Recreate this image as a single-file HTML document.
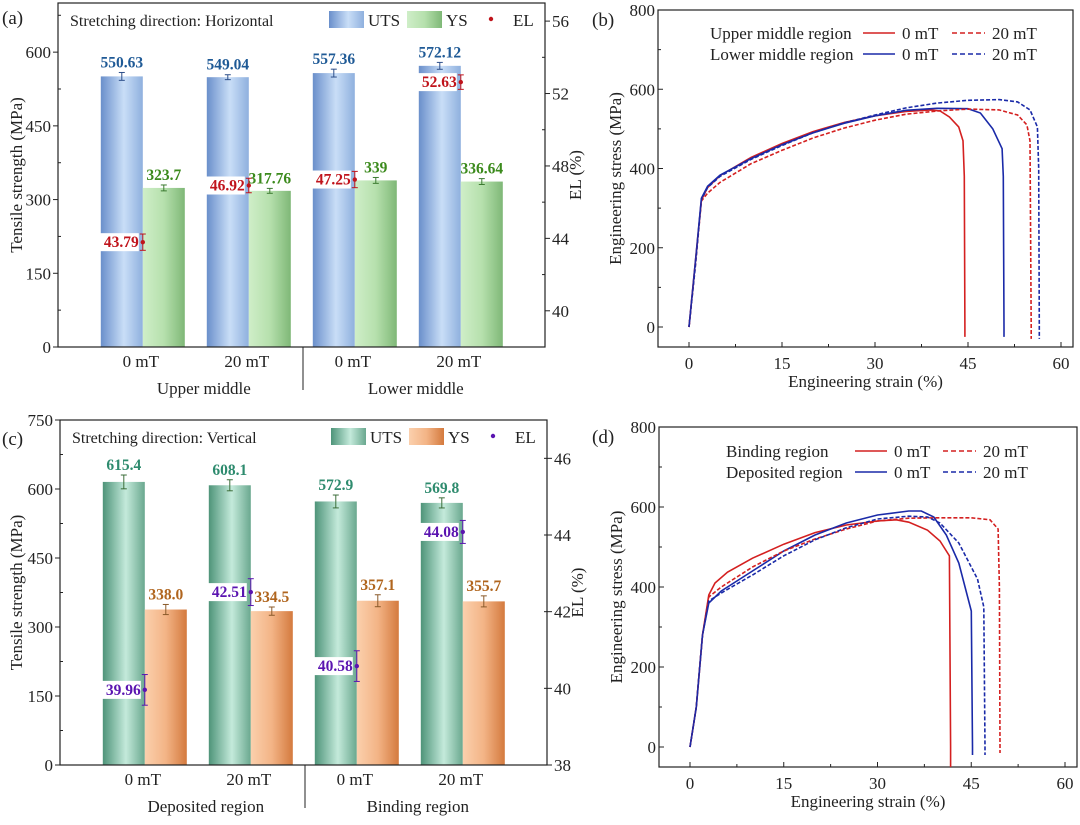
<!DOCTYPE html>
<html><head><meta charset="utf-8"><style>
html,body{margin:0;padding:0;background:#fff}
svg, svg text{font-family:"Liberation Serif","DejaVu Serif",serif}
</style></head><body>
<svg id="fig" width="1080" height="820" xmlns="http://www.w3.org/2000/svg" font-family="Liberation Serif, serif">
<defs>
<linearGradient id="gBlue" x1="0" x2="1"><stop offset="0" stop-color="#6a8fcb"/><stop offset="0.55" stop-color="#c9def7"/><stop offset="1" stop-color="#8fb0de"/></linearGradient>
<linearGradient id="gGreen" x1="0" x2="1"><stop offset="0" stop-color="#cfeec8"/><stop offset="0.5" stop-color="#b6e0ad"/><stop offset="1" stop-color="#7fb877"/></linearGradient>
<linearGradient id="gTeal" x1="0" x2="1"><stop offset="0" stop-color="#4e9479"/><stop offset="0.55" stop-color="#c4eadb"/><stop offset="1" stop-color="#6aa88f"/></linearGradient>
<linearGradient id="gOrange" x1="0" x2="1"><stop offset="0" stop-color="#fbd0ad"/><stop offset="0.5" stop-color="#f3b486"/><stop offset="1" stop-color="#d47a3e"/></linearGradient>
</defs>
</svg>
<script>
// ---------- Panel (a) data ----------
const aCats = ["0 mT","20 mT","0 mT","20 mT"];
const aGroups = ["Upper middle","Lower middle"];
const aUTS = [550.63,549.04,557.36,572.12];
const aUTSerr = [8,5,8,7];
const aYS = [323.7,317.76,339,336.64];
const aYSerr = [6,5,6,6];
const aEL = [43.79,46.92,47.25,52.63];
const aELerr = [0.45,0.4,0.45,0.4];
const aLeftTicks = [0,150,300,450,600];
const aRightTicks = [40,44,48,52,56];
// ---------- Panel (c) data ----------
const cCats = ["0  mT","20  mT","0  mT","20  mT"];
const cGroups = ["Deposited region","Binding region"];
const cUTS = [615.4,608.1,572.9,569.8];
const cUTSlbl = ["615.4","608.1","572.9","569.8"];
const cUTSerr = [15,12,14,11];
const cYS = [338.0,334.5,357.1,355.7];
const cYSlbl = ["338.0","334.5","357.1","355.7"];
const cYSerr = [11,9,13,12];
const cEL = [39.96,42.51,40.58,44.08];
const cELerr = [0.4,0.35,0.4,0.3];
const cLeftTicks = [0,150,300,450,600,750];
const cRightTicks = [38,40,42,44,46];
// ---------- Panel (b) data: [strain %, stress MPa] ----------
const bUpper0 = [[0,0],[1,160],[2,320],[3,352],[5,382],[10,428],[15,463],[20,493],[25,516],[30,533],[35,544],[39,548],[40.5,545],[42,530],[43.5,505],[44.2,470],[44.4,380],[44.5,0],[44.5,-25]];
const bLower0 = [[0,0],[1,160],[2,325],[3,355],[5,383],[10,425],[15,460],[20,490],[25,514],[30,533],[35,547],[40,552],[45,551],[47,540],[49,500],[50.5,450],[50.7,380],[50.8,0],[50.8,-25]];
const bUpper20 = [[0,0],[1,150],[2,318],[3,338],[5,365],[10,412],[15,446],[20,477],[25,502],[30,522],[35,537],[40,545],[45,550],[50,548],[53,535],[54.5,510],[55,470],[55.2,0],[55.2,-30]];
const bLower20 = [[0,0],[1,150],[2,322],[3,352],[5,380],[10,423],[15,458],[20,490],[25,515],[30,535],[35,553],[40,565],[45,572],[50,574],[53,568],[55,548],[56.2,505],[56.4,400],[56.5,0],[56.5,-30]];
// ---------- Panel (d) data ----------
const dBind0 = [[0,0],[1,100],[2,280],[3,380],[4,410],[6,437],[10,472],[15,507],[20,536],[25,555],[30,565],[33,568],[35,562],[38,542],[40,515],[41.5,478],[41.7,0],[41.7,-50]];
const dDep0 = [[0,0],[1,100],[2,280],[3,360],[5,390],[10,440],[15,490],[20,530],[25,560],[30,580],[35,590],[37,590],[39,575],[41,530],[43,460],[45,340],[45.2,0],[45.2,-20]];
const dBind20 = [[0,0],[1,100],[2,280],[3,375],[5,400],[10,450],[15,490],[20,520],[25,545],[30,565],[35,572],[40,573],[45,573],[48,568],[49.3,545],[49.5,400],[49.6,0],[49.6,-15]];
const dDep20 = [[0,0],[1,100],[2,280],[3,365],[5,385],[10,430],[15,478],[20,518],[25,548],[30,570],[35,577],[38,575],[40,560],[43,510],[46,420],[47,350],[47.2,0],[47.2,-20]];
const curveXTicks = [0,15,30,45,60];
const curveYTicks = [0,200,400,600,800];

const svg = document.getElementById('fig');
const NS = 'http://www.w3.org/2000/svg';
function mk(tag, attrs, parent, txt){
  const e = document.createElementNS(NS, tag);
  for (const k in attrs) e.setAttribute(k, attrs[k]);
  if (tag === 'text') e.setAttribute('font-family', 'Liberation Serif, DejaVu Serif, serif');
  if (txt !== undefined) e.textContent = txt;
  (parent || svg).appendChild(e);
  return e;
}

function barPanel(o){
  const g = mk('g', {});
  
  
  const yL = v => o.y1 - v * (o.y1 - o.y0) / o.ymax;
  const yR = v => o.y1 - (v - o.elMin) * (o.y1 - o.y0) / (o.elMax - o.elMin);
  const cx = i => o.x0 + (i + 0.8) * 106;
  const bw = 42;
  for (let i = 0; i < o.uts.length; i++) {
    const u = mk('rect', {x: cx(i) - bw, y: yL(o.uts[i]), width: bw, height: yL(0) - yL(o.uts[i]), fill: o.g1}, g);
    
    
    const s = mk('rect', {x: cx(i), y: yL(o.ys[i]), width: bw, height: yL(0) - yL(o.ys[i]), fill: o.g2}, g);
    
    
    [[cx(i) - bw / 2, o.uts[i], o.utsErr[i], o.ec1], [cx(i) + bw / 2, o.ys[i], o.ysErr[i], o.ec2]].forEach(([x, v, e, c]) => {
      mk('line', {x1: x, x2: x, y1: yL(v + e), y2: yL(v - e), stroke: c, 'stroke-width': 1}, g);
      mk('line', {x1: x - 3, x2: x + 3, y1: yL(v + e), y2: yL(v + e), stroke: c}, g);
      mk('line', {x1: x - 3, x2: x + 3, y1: yL(v - e), y2: yL(v - e), stroke: c}, g);
    });
    const t1 = mk('text', {x: cx(i) - bw / 2, y: yL(o.uts[i] + o.utsErr[i]) - 5, 'text-anchor': 'middle', 'font-size': 15.5, 'font-weight': 'bold', fill: o.tc1}, g, o.utsLbl ? o.utsLbl[i] : String(o.uts[i]));
    
    
    const t2 = mk('text', {x: cx(i) + bw / 2, y: yL(o.ys[i] + o.ysErr[i]) - 5, 'text-anchor': 'middle', 'font-size': 15.5, 'font-weight': 'bold', fill: o.tc2}, g, o.ysLbl ? o.ysLbl[i] : String(o.ys[i]));
    
    
  }
  for (let i = 0; i < o.el.length; i++) {
    const x = cx(i), y = yR(o.el[i]);
    mk('rect', {x: x - 44, y: y - 9, width: 40, height: 18, fill: '#fff'}, g);
    const lt = mk('text', {x: x - 4, y: y + 5, 'text-anchor': 'end', 'font-size': 15.5, 'font-weight': 'bold', fill: o.elc}, g, o.el[i].toFixed(2));
    
    
    mk('line', {x1: x, x2: x, y1: yR(o.el[i] + o.elErr[i]), y2: yR(o.el[i] - o.elErr[i]), stroke: o.elc}, g);
    mk('line', {x1: x - 3, x2: x + 3, y1: yR(o.el[i] + o.elErr[i]), y2: yR(o.el[i] + o.elErr[i]), stroke: o.elc}, g);
    mk('line', {x1: x - 3, x2: x + 3, y1: yR(o.el[i] - o.elErr[i]), y2: yR(o.el[i] - o.elErr[i]), stroke: o.elc}, g);
    const p = mk('circle', {cx: x, cy: y, r: 2.2, fill: o.elc}, g);
    
    
  }
  mk('rect', {x: o.x0, y: o.y0, width: o.x1 - o.x0, height: o.y1 - o.y0, fill: 'none', stroke: '#222', 'stroke-width': 1.2}, g);
  o.lt.forEach(v => {
    mk('line', {x1: o.x0 - 5, x2: o.x0, y1: yL(v), y2: yL(v), stroke: '#222'}, g);
    const tl = mk('text', {x: o.x0 - 7, y: yL(v) + 6, 'text-anchor': 'end', 'font-size': 17, fill: '#222'}, g, v);
    
    
  });
  for (let v = 75; v < o.ymax; v += 150) mk('line', {x1: o.x0, x2: o.x0 + 3, y1: yL(v), y2: yL(v), stroke: '#222'}, g);
  o.rt.forEach(v => {
    mk('line', {x1: o.x1, x2: o.x1 + 5, y1: yR(v), y2: yR(v), stroke: '#222'}, g);
    const tr = mk('text', {x: o.x1 + 7, y: yR(v) + 6, 'font-size': 17, fill: '#222'}, g, v);
    
    
    if (v + 2 <= o.elMax) mk('line', {x1: o.x1 - 3, x2: o.x1, y1: yR(v + 2), y2: yR(v + 2), stroke: '#222'}, g);
  });
  o.cats.forEach((c, i) => {
    const ct = mk('text', {x: cx(i) - 2, y: o.y1 + 20, 'text-anchor': 'middle', 'font-size': 17, fill: '#222', 'xml:space': 'preserve'}, g, c);
    
    
  });
  o.groups.forEach((c, i) => {
    const gt = mk('text', {x: cx(i * 2) + 61, y: o.y1 + 47, 'text-anchor': 'middle', 'font-size': 17, fill: '#222'}, g, c);
    
    
  });
  mk('line', {x1: o.x0 + 245, x2: o.x0 + 245, y1: o.y1, y2: o.y1 + 43, stroke: '#222'}, g);
  const yt = mk('text', {x: 0, y: 0, transform: `translate(${o.ytx},${(o.y0 + o.y1) / 2}) rotate(-90)`, 'text-anchor': 'middle', 'font-size': 17, fill: '#222'}, g, 'Tensile strength (MPa)');
  
  
  const rt = mk('text', {x: 0, y: 0, transform: `translate(${o.x1 + 36},${(o.y0 + o.y1) / 2}) rotate(-90)`, 'text-anchor': 'middle', 'font-size': 17, fill: '#222'}, g, 'EL (%)');
  
  
  const pl = mk('text', {x: 2, y: o.labY, 'font-size': 19, fill: '#222'}, g, o.label);
  
  
  const dt = mk('text', {x: o.x0 + 12, y: o.y0 + 23, 'font-size': 16, fill: '#222'}, g, o.dir);
  
  
  const ly = o.y0 + 8;
  const lg = mk('g', {}, g);
  
  
  mk('rect', {x: o.x0 + 271, y: ly, width: 35, height: 17, fill: o.g1}, lg);
  mk('text', {x: o.x0 + 310, y: ly + 15, 'font-size': 17, fill: '#222'}, lg, 'UTS');
  mk('rect', {x: o.x0 + 349, y: ly, width: 35, height: 17, fill: o.g2}, lg);
  mk('text', {x: o.x0 + 388, y: ly + 15, 'font-size': 17, fill: '#222'}, lg, 'YS');
  mk('circle', {cx: o.x0 + 433, cy: ly + 8, r: 2.2, fill: o.elc}, lg);
  mk('text', {x: o.x0 + 455, y: ly + 15, 'font-size': 17, fill: '#222'}, lg, 'EL');
}

barPanel({name: 'panel-a-bar-chart', x0: 58, x1: 545, y0: 3, y1: 347, ymax: 700, elMin: 38, elMax: 57,
  uts: aUTS, utsErr: aUTSerr, ys: aYS, ysErr: aYSerr, el: aEL, elErr: aELerr,
  g1: 'url(#gBlue)', g2: 'url(#gGreen)', ec1: '#2d4f8a', ec2: '#3b7a30', tc1: '#1f5a96', tc2: '#3b8a1c', elc: '#c0141c',
  lt: aLeftTicks, rt: aRightTicks, cats: aCats, groups: aGroups, ytx: 22, label: '(a)', labY: 24,
  dir: 'Stretching direction: Horizontal'});
barPanel({name: 'panel-c-bar-chart', x0: 60, x1: 547, y0: 420, y1: 765, ymax: 750, elMin: 38, elMax: 47,
  uts: cUTS, utsLbl: cUTSlbl, utsErr: cUTSerr, ys: cYS, ysLbl: cYSlbl, ysErr: cYSerr, el: cEL, elErr: cELerr,
  g1: 'url(#gTeal)', g2: 'url(#gOrange)', ec1: '#3d6e3a', ec2: '#8a5a2a', tc1: '#2e8b6e', tc2: '#b0651e', elc: '#5a14b0',
  lt: cLeftTicks, rt: cRightTicks, cats: cCats, groups: cGroups, ytx: 22, label: '(c)', labY: 445,
  dir: 'Stretching direction: Vertical'});

function curvePanel(o){
  const g = mk('g', {});
  
  
  const X = v => o.zx + v * o.kx;
  const Y = v => o.zy - v * o.ky;
  mk('rect', {x: o.x0, y: o.y0, width: o.x1 - o.x0, height: o.y1 - o.y0, fill: 'none', stroke: '#222', 'stroke-width': 1.2}, g);
  curveXTicks.forEach(v => {
    mk('line', {x1: X(v), x2: X(v), y1: o.y1, y2: o.y1 - 5, stroke: '#222'}, g);
    mk('line', {x1: X(v + 7.5), x2: X(v + 7.5), y1: o.y1, y2: o.y1 - 3, stroke: '#222'}, g);
    const t = mk('text', {x: X(v), y: o.y1 + 22, 'text-anchor': 'middle', 'font-size': 17, fill: '#222'}, g, v);
    
    
  });
  curveYTicks.forEach(v => {
    mk('line', {x1: o.x0, x2: o.x0 + 5, y1: Y(v), y2: Y(v), stroke: '#222'}, g);
    if (v < 800) mk('line', {x1: o.x0, x2: o.x0 + 3, y1: Y(v + 100), y2: Y(v + 100), stroke: '#222'}, g);
    const t = mk('text', {x: o.x0 - 3, y: Y(v) + 6, 'text-anchor': 'end', 'font-size': 17, fill: '#222'}, g, v);
    
    
  });
  o.series.forEach(s => {
    const p = mk('path', {d: s.d.map((pt, i) => (i ? 'L' : 'M') + X(pt[0]).toFixed(1) + ',' + Y(pt[1]).toFixed(1)).join(''),
      fill: 'none', stroke: s.c, 'stroke-width': 1.6, 'stroke-dasharray': s.dash ? '4,2' : 'none'}, g);
    
    
  });
  const xt = mk('text', {x: (o.x0 + o.x1) / 2, y: o.y1 + 40, 'text-anchor': 'middle', 'font-size': 17, fill: '#222'}, g, 'Engineering strain (%)');
  
  
  const yt = mk('text', {x: 0, y: 0, transform: `translate(${o.x0 - 37},${(o.y0 + o.y1) / 2}) rotate(-90)`, 'text-anchor': 'middle', 'font-size': 17, fill: '#222'}, g, 'Engineering stress (MPa)');
  
  
  const pl = mk('text', {x: 592, y: o.y0 + 16, 'font-size': 19, fill: '#222'}, g, o.label);
  
  
  const lg = mk('g', {}, g);
  
  
  o.leg.forEach((r, i) => {
    const y = o.legY + i * 21;
    mk('text', {x: o.lx, y: y + 6, 'font-size': 17, fill: '#222'}, lg, r.t);
    mk('line', {x1: o.l1, x2: o.l1 + 32, y1: y, y2: y, stroke: r.c, 'stroke-width': 1.6}, lg);
    mk('text', {x: o.l1 + 39, y: y + 6, 'font-size': 17, fill: '#222'}, lg, '0 mT');
    mk('line', {x1: o.l2, x2: o.l2 + 33, y1: y, y2: y, stroke: r.c, 'stroke-width': 1.6, 'stroke-dasharray': '5,3'}, lg);
    mk('text', {x: o.l2 + 40, y: y + 6, 'font-size': 17, fill: '#222'}, lg, '20 mT');
  });
}

curvePanel({name: 'panel-b-curves', x0: 658, x1: 1073, y0: 10, y1: 347, zx: 689, kx: 6.2, zy: 327, ky: 317 / 800, label: '(b)',
  series: [{d: bUpper0, c: '#d42020', n: 'upper-0mT-curve'}, {d: bLower0, c: '#1a2aa8', n: 'lower-0mT-curve'},
    {d: bUpper20, c: '#d42020', dash: 1, n: 'upper-20mT-curve'}, {d: bLower20, c: '#1a2aa8', dash: 1, n: 'lower-20mT-curve'}],
  leg: [{t: 'Upper middle region', c: '#d42020'}, {t: 'Lower middle region', c: '#1a2aa8'}], legY: 33, lx: 710, l1: 863, l2: 952});
curvePanel({name: 'panel-d-curves', x0: 659, x1: 1077, y0: 427, y1: 767, zx: 690, kx: 6.25, zy: 747, ky: 320 / 800, label: '(d)',
  series: [{d: dBind0, c: '#d42020', n: 'binding-0mT-curve'}, {d: dDep0, c: '#1a2aa8', n: 'deposited-0mT-curve'},
    {d: dBind20, c: '#d42020', dash: 1, n: 'binding-20mT-curve'}, {d: dDep20, c: '#1a2aa8', dash: 1, n: 'deposited-20mT-curve'}],
  leg: [{t: 'Binding region', c: '#d42020'}, {t: 'Deposited region', c: '#1a2aa8'}], legY: 451, lx: 726, l1: 855, l2: 943});
</script>
</body></html>
